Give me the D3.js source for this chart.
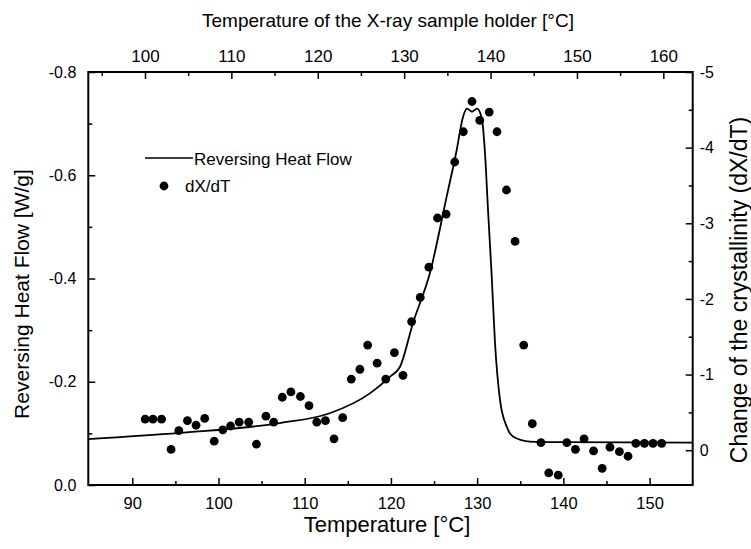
<!DOCTYPE html>
<html>
<head>
<meta charset="utf-8">
<script src="https://cdn.jsdelivr.net/npm/d3@7"></script>
<style>
    body { margin: 0; background: #fff; }
    svg text { font-family: Arial, "Liberation Sans", sans-serif; fill: #000; }
    .axis path { display: none; }
    .axis line { stroke: #000; stroke-width: 1.5; }
</style>
</head>
<body>
<div id="chart"></div>
<script>
// Reversing heat flow curve (left axis, W/g)
var hfTemp = [84.9, 95.5, 107.1, 112.9, 117.6, 119.9, 121.05, 122.56, 124.53, 126.47, 127.63, 128.36,
    128.82, 129.4, 129.98, 130.53, 130.91, 131.26, 131.69, 132.07, 132.65, 133.43, 134.16, 136.13, 139.6, 155.0];
var hfValue = [-0.089, -0.101, -0.120, -0.139, -0.178, -0.210, -0.229, -0.314, -0.411, -0.559, -0.649, -0.713,
    -0.729, -0.723, -0.729, -0.711, -0.643, -0.533, -0.404, -0.275, -0.165, -0.113, -0.094, -0.084, -0.083, -0.082];

// dX/dT points (right axis)
var dxTemp = [91.5, 92.4, 93.4, 94.5, 95.4, 96.4, 97.4, 98.4, 99.5, 100.5, 101.4, 102.4, 103.5, 104.4,
    105.5, 106.4, 107.4, 108.4, 109.5, 110.5, 111.4, 112.4, 113.4, 114.4, 115.4, 116.4, 117.3, 118.4,
    119.4, 120.4, 121.4, 122.4, 123.4, 124.4, 125.4, 126.4, 127.4, 128.4, 129.4, 130.3, 131.4, 132.3,
    133.4, 134.4, 135.4, 136.4, 137.4, 138.3, 139.4, 140.4, 141.4, 142.4, 143.5, 144.5, 145.4, 146.5,
    147.5, 148.4, 149.4, 150.4, 151.4];
var dxValue = [-0.41, -0.41, -0.41, -0.01, -0.26, -0.39, -0.33, -0.42, -0.12, -0.27, -0.32, -0.37, -0.37, -0.08,
    -0.45, -0.37, -0.70, -0.77, -0.71, -0.59, -0.37, -0.39, -0.15, -0.43, -0.94, -1.07, -1.39, -1.15,
    -0.94, -1.29, -0.99, -1.70, -2.02, -2.42, -3.07, -3.12, -3.81, -4.21, -4.61, -4.36, -4.47, -4.21,
    -3.44, -2.76, -1.39, -0.35, -0.10, 0.30, 0.33, -0.10, -0.01, -0.15, 0.01, 0.24, -0.04, 0.02,
    0.08, -0.09, -0.09, -0.09, -0.09];

var bottomTicks = [90, 100, 110, 120, 130, 140, 150];
var bottomMinor = [95, 105, 115, 125, 135, 145];
var topTicks = [100, 110, 120, 130, 140, 150, 160];
var topMinor = [95, 105, 115, 125, 135, 145, 155];
var leftTicks = [0, -0.2, -0.4, -0.6, -0.8];
var leftMinor = [-0.1, -0.3, -0.5, -0.7];
var rightTicks = [0, -1, -2, -3, -4, -5];
var rightMinor = [-0.5, -1.5, -2.5, -3.5, -4.5];

var width = 751, height = 549;
var plot = {left: 88.3, right: 692.7, top: 72, bottom: 485};

var svg = d3.select('#chart').append('svg')
    .attr('width', width)
    .attr('height', height);

var x = d3.scaleLinear().domain([84.9, 155.0]).range([plot.left, plot.right]);
var xTop = d3.scaleLinear().domain([93.44, 163.4]).range([plot.left, plot.right]);
var yLeft = d3.scaleLinear().domain([0, -0.8]).range([plot.bottom, plot.top]);
var yRight = d3.scaleLinear().domain([0.46, -5]).range([plot.bottom, plot.top]);

var fmtLeft = function(d) { return d.toFixed(1); };
var fmtInt = function(d) { return String(d); };

var addAxis = function(axis, transform, fontSize) {
    var g = svg.append('g')
        .attr('class', 'axis')
        .attr('transform', transform)
        .call(axis);
    g.selectAll('text').style('font-size', fontSize || '15px').style('font-family', 'Arial, "Liberation Sans", sans-serif');
    return g;
};

// axes, ticks point inward
addAxis(d3.axisBottom(x).tickValues(bottomTicks).tickSizeInner(-7).tickSizeOuter(0).tickPadding(12).tickFormat(fmtInt),
    'translate(0,' + plot.bottom + ')', '16.5px');
addAxis(d3.axisBottom(x).tickValues(bottomMinor).tickSizeInner(-4).tickSizeOuter(0).tickFormat(''),
    'translate(0,' + plot.bottom + ')');
addAxis(d3.axisTop(xTop).tickValues(topTicks).tickSizeInner(-7).tickSizeOuter(0).tickPadding(10).tickFormat(fmtInt),
    'translate(0,' + plot.top + ')', '17px');
addAxis(d3.axisTop(xTop).tickValues(topMinor).tickSizeInner(-4).tickSizeOuter(0).tickFormat(''),
    'translate(0,' + plot.top + ')');
addAxis(d3.axisLeft(yLeft).tickValues(leftTicks).tickSizeInner(-7).tickSizeOuter(0).tickPadding(12).tickFormat(fmtLeft),
    'translate(' + plot.left + ',0)', '16px');
addAxis(d3.axisLeft(yLeft).tickValues(leftMinor).tickSizeInner(-4).tickSizeOuter(0).tickFormat(''),
    'translate(' + plot.left + ',0)');
addAxis(d3.axisRight(yRight).tickValues(rightTicks).tickSizeInner(-7).tickSizeOuter(0).tickPadding(7).tickFormat(fmtInt),
    'translate(' + plot.right + ',0)', '16px');
addAxis(d3.axisRight(yRight).tickValues(rightMinor).tickSizeInner(-4).tickSizeOuter(0).tickFormat(''),
    'translate(' + plot.right + ',0)');

// frame
svg.append('rect')
    .attr('x', plot.left)
    .attr('y', plot.top)
    .attr('width', plot.right - plot.left)
    .attr('height', plot.bottom - plot.top)
    .attr('fill', 'none')
    .attr('stroke', '#000')
    .attr('stroke-width', 2);

// heat flow curve
var hfData = hfTemp.map(function(t, i) { return [t, hfValue[i]]; });
var line = d3.line()
    .x(function(d) { return x(d[0]); })
    .y(function(d) { return yLeft(d[1]); })
    .curve(d3.curveMonotoneX);

svg.append('path')
    .datum(hfData)
    .attr('d', line)
    .attr('fill', 'none')
    .attr('stroke', '#000')
    .attr('stroke-width', 1.8);

// dX/dT dots
var dxData = dxTemp.map(function(t, i) { return [t, dxValue[i]]; });
svg.selectAll('circle.dot').data(dxData)
    .enter()
    .append('circle')
    .attr('class', 'dot')
    .attr('cx', function(d) { return x(d[0]); })
    .attr('cy', function(d) { return yRight(d[1]); })
    .attr('r', 4.4)
    .attr('fill', '#000');

// legend
svg.append('line')
    .attr('x1', 145).attr('x2', 193)
    .attr('y1', 158).attr('y2', 158)
    .attr('stroke', '#000')
    .attr('stroke-width', 1.5);
svg.append('text')
    .attr('x', 194).attr('y', 165)
    .style('font-size', '17px')
    .text('Reversing Heat Flow');
svg.append('circle')
    .attr('cx', 164).attr('cy', 186)
    .attr('r', 4.4)
    .attr('fill', '#000');
svg.append('text')
    .attr('x', 185).attr('y', 192)
    .style('font-size', '17px')
    .text('dX/dT');

// axis titles
svg.append('text')
    .attr('x', 388).attr('y', 27)
    .attr('text-anchor', 'middle')
    .style('font-size', '19px')
    .text('Temperature of the X-ray sample holder [°C]');
svg.append('text')
    .attr('x', 387).attr('y', 532)
    .attr('text-anchor', 'middle')
    .style('font-size', '22px')
    .text('Temperature [°C]');
svg.append('text')
    .attr('transform', 'translate(29,294) rotate(-90)')
    .attr('text-anchor', 'middle')
    .style('font-size', '21px')
    .text('Reversing Heat Flow [W/g]');
svg.append('text')
    .attr('transform', 'translate(747,290) rotate(-90)')
    .attr('text-anchor', 'middle')
    .style('font-size', '23px')
    .text('Change of the crystallinity (dX/dT)');
</script>
</body>
</html>
